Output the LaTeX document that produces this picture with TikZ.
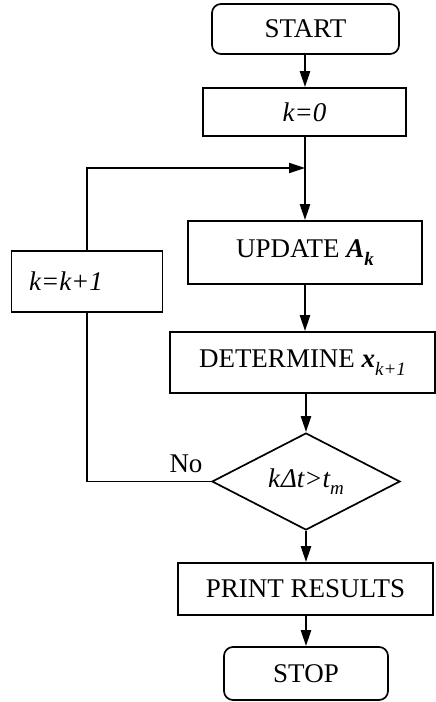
\documentclass[tikz,border=0pt]{standalone}
\usepackage{fontspec}
\setmainfont{Liberation Serif}
\usetikzlibrary{shapes.geometric,arrows.meta}
\newcommand\mysub[1]{\raisebox{-0.28em}{\fontsize{19}{21}\selectfont #1}}
\begin{document}
\begin{tikzpicture}[x=1pt,y=-1pt,
  every node/.style={font=\fontsize{27}{31}\selectfont},
  procbox/.style={draw,line width=1.7pt,rectangle,inner sep=0pt},
  termbox/.style={procbox,rounded corners=9pt},
  decbox/.style={draw,line width=1.7pt,shape=diamond,inner sep=0pt,aspect=1.94},
  flow/.style={line width=2.2pt,-{Triangle[length=16pt,width=10pt]}},
  plain/.style={line width=2.2pt}]
\useasboundingbox (0,0) rectangle (436,702);
\node[termbox,minimum width=187pt,minimum height=50pt] (start) at (305.5,29) {START};
\node[procbox,minimum width=203pt,minimum height=48pt] (k0) at (304.5,112) {\itshape k=0};
\coordinate (merge) at (305,168);
\node[procbox,minimum width=234pt,minimum height=63pt] (upd) at (305,252.5) {UPDATE \textbf{\itshape A\mysub{k}}};
\node[procbox,minimum width=151pt,minimum height=61pt] (inc) at (87,281.5) {\hspace*{-42pt}\itshape k=k+1};
\node[procbox,minimum width=265pt,minimum height=61pt] (det) at (302.5,362.5) {DETERMINE \textbf{\itshape x}\mysub{\itshape k+1}};
\node[decbox,minimum width=188pt,minimum height=97pt] (dec) at (306,481.5) {\itshape k\kern1pt Δt>t\mysub{m}};
\node[procbox,minimum width=255pt,minimum height=52pt] (prt) at (305.5,589) {PRINT RESULTS};
\node[termbox,minimum width=164pt,minimum height=53pt] (stop) at (306,673.5) {STOP};
\node (no) at (186,464) {No};
\draw[flow] (start.south -| merge) -- (k0.north -| merge);
\draw[plain] (k0.south -| merge) -- (merge);
\draw[flow] (merge) -- (upd.north -| merge);
\draw[flow] (upd.south -| merge) -- (det.north -| merge);
\draw[flow] (det.south -| dec.north) -- (dec.north);
\draw[flow] (dec.south) -- (prt.north -| dec.south);
\draw[flow] (prt.south -| stop.north) -- (stop.north);
\draw[plain,line width=1.8pt] (dec.west) -| (inc.south);
\draw[flow,line width=1.8pt] (inc.north) |- (merge);
\end{tikzpicture}
\end{document}
